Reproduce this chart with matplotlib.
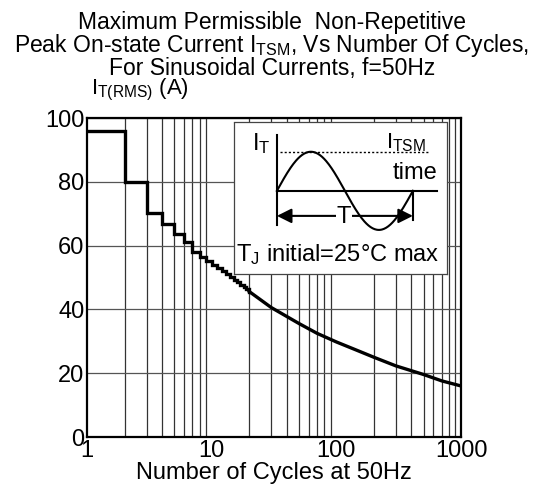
import matplotlib
matplotlib.use("Agg")
import matplotlib.pyplot as plt
import numpy as np

plt.rcParams["font.family"] = ["Liberation Sans", "DejaVu Sans"]
plt.rcParams["mathtext.default"] = "regular"

# ------------------------------------------
# data
# ------------------------------------------
step_cycles = [1, 2, 3, 4, 5, 6, 7, 8, 9, 10, 11, 12, 13, 14, 15, 16, 17, 18, 19, 20]
step_current = [96, 80, 70.3, 66.8, 63.7, 61, 58, 56.5, 55.2, 54.0, 52.9, 51.9, 51.0,
                50.1, 49.3, 48.5, 47.8, 47.1, 46.4, 45.6]
smooth_cycles = [20, 30, 50, 70, 100, 150, 200, 300, 500, 700, 1000]
smooth_current = [45.6, 40.6, 35.6, 32.5, 29.8, 27.0, 25.0, 22.3, 19.6, 17.6, 16.0]

x_ticks = [1, 10, 100, 1000]
y_ticks = [0, 20, 40, 60, 80, 100]

title_lines = ["Maximum Permissible  Non-Repetitive",
               "Peak On-state Current I$_{TSM}$, Vs Number Of Cycles,",
               "For Sinusoidal Currents, f=50Hz"]

fig = plt.figure(figsize=(5.44, 4.86), dpi=100)
ax = fig.add_axes([0.160, 0.1008, 0.6875, 0.6564])

ax.set_xscale("log")
ax.set_xlim(1, 1000)
ax.set_ylim(0, 100)

# grid
ax.grid(True, which="minor", axis="x", color="#333333", linewidth=0.9)
ax.grid(True, which="major", axis="y", color="#555555", linewidth=0.9)
ax.set_axisbelow(True)

ax.step(step_cycles, step_current, where="post", color="black", linewidth=2.4,
        solid_joinstyle="miter")
ax.plot(smooth_cycles, smooth_current, color="black", linewidth=2.4)

ax.set_xticks(x_ticks)
ax.set_xticklabels([str(v) for v in x_ticks])
ax.set_yticks(y_ticks)
ax.set_yticklabels([str(v) for v in y_ticks])
ax.tick_params(axis="both", which="both", length=0, labelsize=17, pad=2)
ax.tick_params(axis="x", pad=2)
for s in ax.spines.values():
    s.set_linewidth(1.6)

ax.set_xlabel("Number of Cycles at 50Hz", fontsize=17, labelpad=0)

# title, one text per line (mathtext would spread the lines otherwise)
for line, ypix in zip(title_lines, [29, 52, 75]):
    fig.text(0.5, 1 - ypix / 486, line, ha="center", va="baseline", fontsize=16.5)
fig.text(0.168, 1 - 94 / 486, "I$_{T(RMS)}$ (A)", ha="left", va="baseline", fontsize=16)

# ------------------------------------------
# inset sketch
# ------------------------------------------
ins = fig.add_axes([0.430, 0.4362, 0.3915, 0.3134])
ins.set_xlim(0, 213)
ins.set_ylim(152, 0)
ins.set_xticks([])
ins.set_yticks([])
for s in ins.spines.values():
    s.set_linestyle((0, (1, 1)))
    s.set_linewidth(0.9)
    s.set_color("#444444")

x0, x1, base, amp = 43, 179, 69, 39
ins.plot([x0, x0], [13, 103], color="black", lw=1.5)
ins.plot([x0, 203], [base, base], color="black", lw=1.5)
t = np.linspace(0, 1, 200)
ins.plot(x0 + t * (x1 - x0), base - amp * np.sin(2 * np.pi * t), color="black", lw=1.5)
ins.plot([46, 194], [base - amp, base - amp], color="black", lw=1.0, linestyle=(0, (1.5, 1.5)))
ins.plot([x1, x1], [base, 98], color="black", lw=1.5)
ins.annotate("", xy=(x0, 94), xytext=(x1, 94),
             arrowprops=dict(arrowstyle="<|-|>", color="black", lw=1.5,
                             mutation_scale=22, shrinkA=0, shrinkB=0))
ins.text(110, 95, "T", ha="center", va="center", fontsize=17,
         bbox=dict(facecolor="white", edgecolor="none", pad=0.5))
ins.text(27, 22, "I$_T$", ha="center", va="center", fontsize=17)
ins.text(172, 21, "I$_{TSM}$", ha="center", va="center", fontsize=16)
ins.text(203, 62, "time", ha="right", va="bottom", fontsize=17)
ins.text(104, 133, "T$_J$ initial=25°C max", ha="center", va="center", fontsize=17)

fig.savefig("out.png", dpi=100)
